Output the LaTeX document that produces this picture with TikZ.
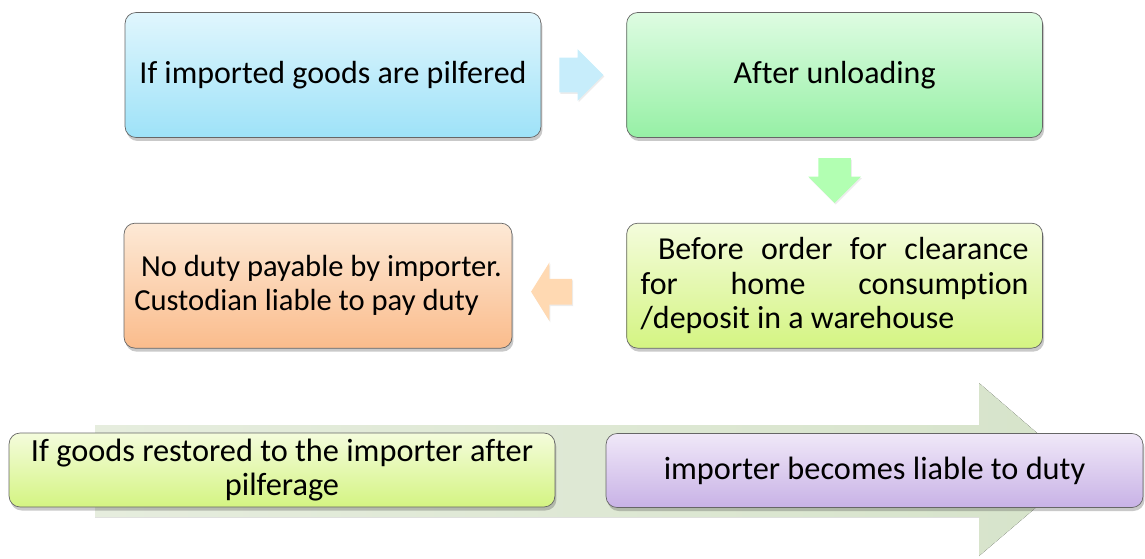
\documentclass[tikz,border=0pt]{standalone}
\usepackage{fontspec}
\setmainfont{Carlito}[Ligatures=NoCommon]
\usepackage{tikz}
\usetikzlibrary{positioning,shapes.arrows,shadows,calc}
\definecolor{bluetop}{RGB}{224,246,253}
\definecolor{bluebot}{RGB}{158,226,248}
\definecolor{greentop}{RGB}{222,252,226}
\definecolor{greenbot}{RGB}{150,240,165}
\definecolor{limetop}{RGB}{244,252,220}
\definecolor{limebot}{RGB}{212,244,130}
\definecolor{peachtop}{RGB}{253,233,214}
\definecolor{peachbot}{RGB}{250,188,140}
\definecolor{lilactop}{RGB}{240,232,248}
\definecolor{lilacbot}{RGB}{200,178,230}
\definecolor{sagelight}{RGB}{230,237,222}
\definecolor{sagedark}{RGB}{214,227,202}

\begin{document}
\begin{tikzpicture}[
  x=0.02cm, y=-0.02cm,
  block/.style={draw=black!60,rounded corners=0.22cm,align=center,minimum width=8.32cm,
    minimum height=2.5cm,font=\fontsize{18.2}{19.5}\selectfont,
    drop shadow={shadow xshift=0.03cm,shadow yshift=-0.07cm,opacity=0.3,fill=black!70}},
  flowarrow/.style={single arrow,draw=none,single arrow head indent=0pt,
    drop shadow={shadow xshift=0.02cm,shadow yshift=-0.03cm,opacity=0.15}}
]
\useasboundingbox (0,0) rectangle (1145,558);
% big background arrow
\fill[left color=sagelight,right color=sagedark]
  (95,425) -- (979,425) -- (979,383) -- (1080,470) -- (979,556) -- (979,517) -- (95,517) -- cycle;
\node[block,top color=bluetop,bottom color=bluebot] (pilfer) at (333,75) {If imported goods are pilfered};
\node[block,top color=greentop,bottom color=greenbot,right=1.7cm of pilfer] (unload) {After unloading};
\node[block,top color=limetop,bottom color=limebot,below=1.7cm of unload,align=justify,text width=7.76cm] (before)
  {\ Before order for clearance\linebreak for home consumption\linebreak /deposit in a warehouse};
\node[block,top color=peachtop,bottom color=peachbot,left=2.28cm of before,minimum width=7.76cm,
  align=left,inner xsep=2pt,font=\fontsize{17.4}{19.5}\selectfont] (noduty)
  {\ No duty payable by importer.\\Custodian liable to pay duty};
\node[block,top color=limetop,bottom color=limebot,minimum width=10.92cm,minimum height=1.48cm,
  font=\fontsize{18.4}{19}\selectfont] (restore) at (282,470)
  {If goods restored to the importer after\\pilferage};
\node[block,top color=lilactop,bottom color=lilacbot,minimum width=10.74cm,minimum height=1.48cm,
  font=\fontsize{18.4}{19}\selectfont] (liable) at (874.5,470.5) {importer becomes liable to duty};
\node[flowarrow,fill=cyan!22,minimum height=0.88cm,inner xsep=0pt,inner ysep=0.34cm,
  single arrow head extend=0.17cm] (a1) at ($(pilfer.east)!0.37!(unload.west)$) {};
\node[flowarrow,fill=green!30,minimum height=0.9cm,inner ysep=0pt,inner xsep=0.32cm,
  single arrow head extend=0.2cm,shape border rotate=270]
  (a2) at ($(unload.south)!0.5!(before.north)+(0,-8)$) {};
\node[flowarrow,fill=orange!30,minimum height=0.82cm,inner xsep=0pt,inner ysep=0.25cm,
  single arrow head extend=0.33cm,single arrow tip angle=116,shape border rotate=180]
  (a3) at ($(noduty.east)!0.38!(before.west)+(0,6)$) {};
\end{tikzpicture}
\end{document}
